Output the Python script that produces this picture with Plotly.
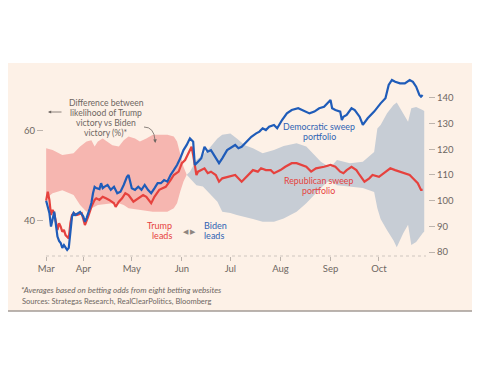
import plotly.graph_objects as go

# ---------------- data ----------------
dem_dates = ["2020-03-09","2020-03-11","2020-03-12","2020-03-13","2020-03-14","2020-03-16","2020-03-17",
             "2020-03-18","2020-03-19","2020-03-20","2020-03-21","2020-03-22","2020-03-23","2020-03-24",
             "2020-03-25","2020-03-26","2020-03-27","2020-03-30","2020-04-01","2020-04-02","2020-04-03",
             "2020-04-05","2020-04-06","2020-04-07","2020-04-08","2020-04-09","2020-04-11","2020-04-12",
             "2020-04-13","2020-04-14","2020-04-16","2020-04-18","2020-04-20","2020-04-22","2020-04-24",
             "2020-04-26","2020-04-28","2020-04-29","2020-05-01","2020-05-03","2020-05-05","2020-05-07",
             "2020-05-09","2020-05-11","2020-05-13","2020-05-15","2020-05-17","2020-05-19","2020-05-21",
             "2020-05-23","2020-05-25","2020-05-27","2020-05-29","2020-05-31","2020-06-02","2020-06-04",
             "2020-06-06","2020-06-08","2020-06-09","2020-06-11","2020-06-13","2020-06-15","2020-06-17",
             "2020-06-19","2020-06-21","2020-06-24","2020-06-26","2020-06-29","2020-07-04","2020-07-06",
             "2020-07-08","2020-07-11","2020-07-14","2020-07-17","2020-07-19","2020-07-21","2020-07-23",
             "2020-07-25","2020-07-28","2020-07-30","2020-08-02","2020-08-05","2020-08-08","2020-08-12",
             "2020-08-16","2020-08-19","2020-08-22","2020-08-25","2020-08-28","2020-09-01","2020-09-02",
             "2020-09-04","2020-09-07","2020-09-08","2020-09-09","2020-09-11","2020-09-14","2020-09-16",
             "2020-09-19","2020-09-21","2020-09-24","2020-09-28","2020-10-02","2020-10-05","2020-10-07",
             "2020-10-09","2020-10-11","2020-10-14","2020-10-17","2020-10-20","2020-10-22","2020-10-24",
             "2020-10-26","2020-10-27","2020-10-28"]
dem_values = [100.0,95.2,89.9,93.2,95.7,86.0,84.3,
              83.5,81.6,82.7,81.6,80.8,81.6,88.6,
              93.8,95.2,94.4,95.6,93.8,91.8,93.2,
              97.0,99.1,102.9,105.4,104.9,104.5,106.8,
              104.9,105.4,106.1,104.2,105.4,102.9,103.5,
              106.1,109.3,110.0,104.8,104.2,105.4,104.2,
              106.1,104.2,102.9,104.8,106.8,106.8,108.0,
              107.4,110.0,111.9,113.9,116.5,119.7,121.7,
              124.3,123.0,113.9,115.2,116.5,121.0,119.1,
              119.7,117.8,114.6,116.5,119.7,121.7,120.4,
              121.0,123.0,124.9,126.2,126.9,128.2,127.5,
              128.8,129.5,128.2,131.4,134.0,135.3,136.0,
              134.7,134.0,134.7,136.0,136.6,139.2,136.0,
              135.3,134.7,131.4,132.7,133.4,136.0,135.3,
              132.7,129.5,132.1,134.7,137.9,139.9,145.1,
              147.0,146.3,145.7,145.7,147.0,146.3,144.4,
              141.2,140.5,141.2]

rep_dates = ["2020-03-09","2020-03-10","2020-03-11","2020-03-12","2020-03-13","2020-03-14","2020-03-15",
             "2020-03-16","2020-03-17","2020-03-18","2020-03-19","2020-03-20","2020-03-21","2020-03-22",
             "2020-03-23","2020-03-24","2020-03-25","2020-03-26","2020-03-28","2020-03-31","2020-04-01",
             "2020-04-02","2020-04-04","2020-04-06","2020-04-08","2020-04-09","2020-04-11","2020-04-13",
             "2020-04-15","2020-04-17","2020-04-20","2020-04-21","2020-04-23","2020-04-25","2020-04-27",
             "2020-04-29","2020-05-02","2020-05-05","2020-05-08","2020-05-10","2020-05-13","2020-05-15",
             "2020-05-18","2020-05-20","2020-05-22","2020-05-25","2020-05-27","2020-05-30","2020-06-01",
             "2020-06-03","2020-06-05","2020-06-07","2020-06-08","2020-06-10","2020-06-11","2020-06-13",
             "2020-06-15","2020-06-17","2020-06-19","2020-06-22","2020-06-24","2020-06-26","2020-06-29",
             "2020-07-04","2020-07-08","2020-07-11","2020-07-13","2020-07-15","2020-07-18","2020-07-20",
             "2020-07-23","2020-07-26","2020-07-28","2020-08-01","2020-08-04","2020-08-08","2020-08-11",
             "2020-08-14","2020-08-17","2020-08-20","2020-08-23","2020-08-28","2020-09-01","2020-09-04",
             "2020-09-07","2020-09-09","2020-09-11","2020-09-14","2020-09-17","2020-09-19","2020-09-22",
             "2020-09-25","2020-09-27","2020-10-01","2020-10-04","2020-10-08","2020-10-11","2020-10-14",
             "2020-10-17","2020-10-20","2020-10-22","2020-10-25","2020-10-27","2020-10-28"]
rep_values = [100.0,103.5,100.3,94.4,96.4,95.1,91.8,
              88.6,91.2,89.9,87.9,88.6,86.6,86.0,
              85.3,91.2,94.4,95.1,94.4,95.1,92.5,
              90.5,93.8,97.6,100.3,100.9,100.3,101.5,
              100.9,100.3,99.0,97.6,99.6,100.9,102.9,
              102.2,99.6,100.9,102.2,101.5,99.0,101.5,
              104.2,104.8,105.4,108.0,110.0,111.3,114.6,
              115.8,118.4,121.0,117.8,110.0,111.3,111.9,
              112.6,110.7,111.3,110.0,107.4,108.7,109.3,
              110.0,107.4,109.3,110.7,111.9,111.3,112.6,
              111.9,111.9,110.7,111.9,113.2,114.6,114.6,
              113.9,113.2,111.3,112.6,113.2,113.9,113.2,
              111.3,110.7,111.9,113.2,111.9,110.0,107.4,
              108.7,110.0,109.3,110.7,112.6,111.9,111.3,
              110.7,110.0,108.7,106.8,104.2,104.2]

band_dates = ["2020-03-09","2020-03-13","2020-03-19","2020-03-26","2020-03-30","2020-04-03","2020-04-06",
              "2020-04-08","2020-04-10","2020-04-13","2020-04-19","2020-04-23","2020-04-26","2020-04-29",
              "2020-05-03","2020-05-06","2020-05-10","2020-05-14","2020-05-23","2020-05-27","2020-05-29",
              "2020-05-31","2020-06-02","2020-06-04","2020-06-06","2020-06-10","2020-06-14","2020-06-18",
              "2020-06-23","2020-06-26","2020-07-01","2020-07-05","2020-07-10","2020-07-15","2020-07-21",
              "2020-07-28","2020-08-03","2020-08-11","2020-08-17","2020-08-21","2020-08-26","2020-08-30",
              "2020-09-01","2020-09-05","2020-09-13","2020-09-21","2020-09-28","2020-09-30","2020-10-02",
              "2020-10-06","2020-10-10","2020-10-12","2020-10-16","2020-10-19","2020-10-21","2020-10-24",
              "2020-10-28","2020-10-29"]
trump_odds = [56.0,55.6,54.5,54.9,56.4,57.5,57.8,
              56.4,57.5,58.2,56.7,56.4,57.8,58.6,
              58.2,57.5,58.2,59.0,59.0,58.6,57.5,
              54.5,51.9,50.1,49.3,47.8,47.5,46.1,
              44.1,41.9,41.6,41.2,40.7,40.3,39.7,
              39.7,40.4,41.9,43.8,45.2,47.2,48.5,
              48.7,47.8,47.5,47.2,46.3,42.7,40.3,
              37.8,35.5,34.0,37.1,39.0,34.5,35.2,
              37.1,37.5]
biden_odds = [44.9,46.0,46.7,45.6,43.4,41.9,42.7,
              43.0,43.4,43.6,43.8,43.8,43.4,42.7,
              42.5,42.3,42.1,41.9,41.9,42.7,43.8,
              46.4,48.6,50.1,50.8,53.4,54.5,56.0,
              58.2,59.0,59.3,58.2,56.7,56.0,54.9,
              55.6,56.5,57.1,56.4,54.9,53.0,52.1,
              51.8,53.4,52.7,53.0,55.2,60.4,61.2,
              63.8,65.6,66.2,63.8,61.9,64.9,65.2,
              64.5,64.3]

month_ticks = ["2020-03-09","2020-04-01","2020-05-01","2020-06-01","2020-07-01",
               "2020-08-01","2020-09-01","2020-10-01"]
month_labels = ["Mar","Apr","May","Jun","Jul","Aug","Sep","Oct"]
portfolio_ticks = [80, 90, 100, 110, 120, 130, 140]
odds_ticks = [40, 60]

# ---------------- styling ----------------
FONT = "Lato"
BG = "#fdf1e7"
GREY_TXT = "#6e6762"
TICK_COL = "#bdb4ad"
BLUE = "#1f5cb9"
BLUE_TXT = "#2f63b3"
RED = "#e6423e"
PINK = "#f6b6b0"
GREY_BAND = "#c7cdd5"

W, H = 480, 375
OFF = 8                      # page body margin of the html page
PL, PT, PW, PH = 44, 70, 384, 186   # plot area in window pixels
L, T = PL - OFF, PT - OFF
R, B = W - L - PW, H - T - PH


def px(x):
    return (x - PL) / PW


def py(y):
    return (PT + PH - y) / PH


fig = go.Figure()

# band: pink while Trump leads, grey while Biden leads
split = next(i for i in range(len(trump_odds)) if trump_odds[i] <= biden_odds[i])
segments = [(0, split + 1, PINK), (split, len(band_dates), GREY_BAND)]
for a, b, col in segments:
    d = band_dates[a:b]
    hi = [max(t, bd) for t, bd in zip(trump_odds[a:b], biden_odds[a:b])]
    lo = [min(t, bd) for t, bd in zip(trump_odds[a:b], biden_odds[a:b])]
    fig.add_trace(go.Scatter(x=d + d[::-1], y=hi + lo[::-1], fill="toself", fillcolor=col,
                             mode="lines", line=dict(width=0), yaxis="y", hoverinfo="skip",
                             showlegend=False))

fig.add_trace(go.Scatter(x=rep_dates, y=rep_values, mode="lines", yaxis="y2",
                         line=dict(color=RED, width=2.2), showlegend=False))
fig.add_trace(go.Scatter(x=dem_dates, y=dem_values, mode="lines", yaxis="y2",
                         line=dict(color=BLUE, width=2.2), showlegend=False))

shapes = [
    dict(type="rect", xref="paper", yref="paper", x0=px(0), x1=px(W + 10), y0=py(311), y1=py(63),
         fillcolor=BG, line=dict(width=0), layer="below"),
    dict(type="line", xref="paper", yref="paper", x0=px(0), x1=px(W + 10), y0=py(311), y1=py(311),
         line=dict(color="#a39b96", width=1.5), layer="below"),
    dict(type="line", xref="paper", yref="paper", x0=px(46), x1=px(426), y0=0, y1=0,
         line=dict(color="#cfc6bf", width=1, dash="dot"), layer="below"),
    dict(type="path", xref="paper", yref="paper",
         path="M {} {} Q {} {} {} {}".format(px(144), py(127), px(154), py(127), px(155), py(140)),
         line=dict(color=GREY_TXT, width=0.8)),
]

annotations = []


def txt(text, x, y, color=GREY_TXT, size=8.5, xanchor="center", italic=False):
    annotations.append(dict(text=("<i>%s</i>" % text) if italic else text, xref="paper", yref="paper",
                            x=px(x), y=py(y), xanchor=xanchor, yanchor="middle", showarrow=False,
                            font=dict(family=FONT, size=size, color=color)))


for i, line in enumerate(["Difference between", "likelihood of Trump", "victory vs Biden", "victory (%)*"]):
    txt(line, 106, 102.7 + i * 10.2, size=8.6)
txt("Democratic sweep", 319, 126.5, color=BLUE_TXT, size=8.8)
txt("portfolio", 319, 136, color=BLUE_TXT, size=8.8)
txt("Republican sweep", 318, 180.8, color=RED, size=8.8)
txt("portfolio", 318, 190.3, color=RED, size=8.8)
txt("Trump", 173.5, 225.4, color=RED, size=9, xanchor="right")
txt("leads", 173.5, 235.8, color=RED, size=9, xanchor="right")
txt("Biden", 202, 225.4, color=BLUE_TXT, size=9, xanchor="left")
txt("leads", 202, 235.8, color=BLUE_TXT, size=9, xanchor="left")
txt("\u25C0 \u25B6", 189.5, 231, color="#8d8580", size=6.5)
txt("*Averages based on betting odds from eight betting websites", 19, 290, size=8.1,
    xanchor="left", italic=True)
txt("Sources: Strategas Research, RealClearPolitics, Bloomberg", 20, 301, size=7.5, xanchor="left")

# straight left-pointing arrow next to the label
annotations.append(dict(xref="paper", yref="paper", x=px(48), y=py(112), ax=15, ay=0, text="",
                        showarrow=True, arrowhead=2, arrowsize=0.8, arrowwidth=0.8,
                        arrowcolor=GREY_TXT))
# head of the curved arrow
annotations.append(dict(xref="paper", yref="paper", x=px(155.3), y=py(143), ax=-0.3, ay=-4, text="",
                        showarrow=True, arrowhead=2, arrowsize=0.9, arrowwidth=0.8,
                        arrowcolor=GREY_TXT))

fig.update_layout(
    width=W, height=H,
    margin=dict(l=L, r=R, t=T, b=B, pad=0),
    paper_bgcolor="white", plot_bgcolor="rgba(0,0,0,0)",
    font=dict(family=FONT, color=GREY_TXT),
    showlegend=False,
    shapes=shapes, annotations=annotations,
    xaxis=dict(type="date", range=["2020-03-07 16:00", "2020-10-31 08:00"],
               tickvals=month_ticks, ticktext=month_labels, ticks="outside", ticklen=4,
               tickcolor=TICK_COL, tickwidth=1, showgrid=False, zeroline=False, showline=False,
               tickfont=dict(family=FONT, size=9.5, color=GREY_TXT)),
    yaxis=dict(side="left", range=[32.07, 73.4], tickvals=odds_ticks, ticks="outside",
               ticklen=6, tickcolor=TICK_COL, showgrid=False, zeroline=False, showline=False,
               tickfont=dict(family=FONT, size=9.5, color=GREY_TXT)),
    yaxis2=dict(side="right", overlaying="y", range=[78.44, 150.9], tickvals=portfolio_ticks,
                ticks="outside", ticklen=6, tickcolor=TICK_COL, showgrid=False, zeroline=False,
                showline=False, tickfont=dict(family=FONT, size=9.5, color=GREY_TXT)),
)

fig.write_html("out.html")
